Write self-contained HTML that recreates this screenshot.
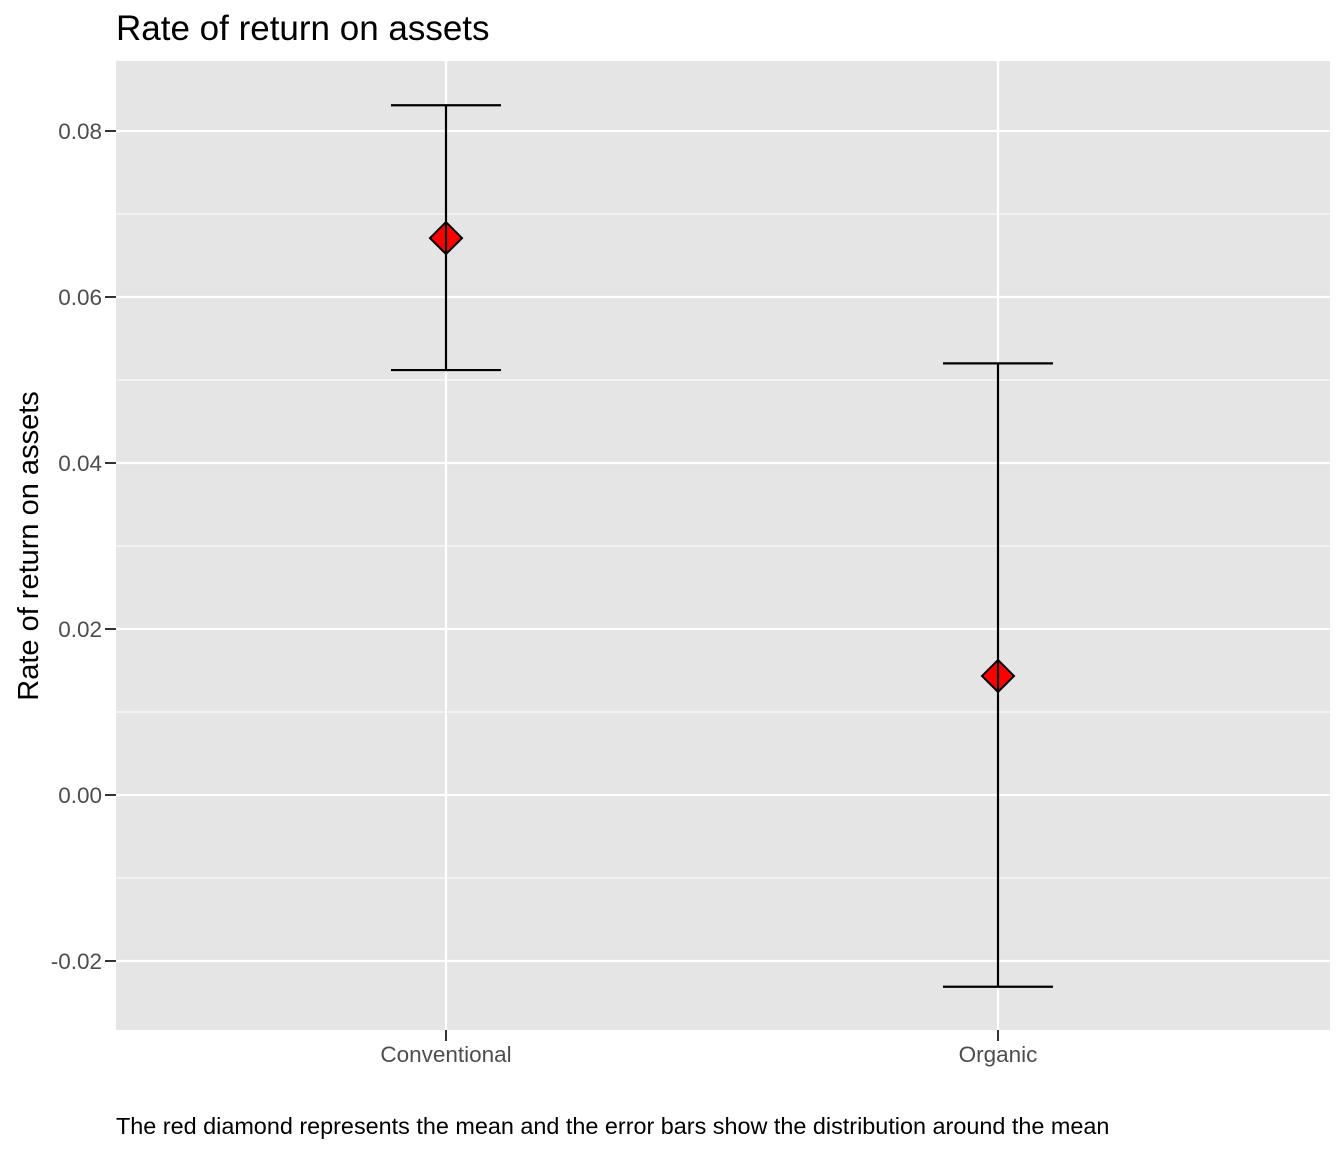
<!DOCTYPE html>
<html><head><meta charset="utf-8"><style>
body{margin:0;background:#fff;}
svg{display:block;font-family:"Liberation Sans",Arial,sans-serif;}
</style></head><body>
<svg id="chart" width="1344" height="1152">
<rect x="116" y="61" width="1214" height="969" fill="#e5e5e5"/>
<g id="grid"></g>
<g id="marks"></g>
<g id="axes"></g>
<text x="116" y="40" font-size="35" fill="#000">Rate of return on assets</text>
<text transform="translate(38,546) rotate(-90)" text-anchor="middle" font-size="29" fill="#000">Rate of return on assets</text>
<text x="116" y="1134" font-size="23.4" fill="#000">The red diamond represents the mean and the error bars show the distribution around the mean</text>
</svg>
<script>
const categories = ["Conventional","Organic"];
const means = [0.0671, 0.01434];
const lows = [0.0512, -0.0231];
const highs = [0.0831, 0.0520];
const yTicks = [-0.02, 0, 0.02, 0.04, 0.06, 0.08];
const yTickLabels = ["-0.02","0.00","0.02","0.04","0.06","0.08"];

const NS="http://www.w3.org/2000/svg";
function y(v){return 795 - v*8300;}
function x(i){return 446 + i*552;}
function mk(parent,tag,attrs){const e=document.createElementNS(NS,tag);for(const k in attrs)e.setAttribute(k,attrs[k]);document.getElementById(parent).appendChild(e);return e;}

for(let i=0;i<yTicks.length-1;i++){
  const m=(yTicks[i]+yTicks[i+1])/2;
  const l=mk('grid','line',{x1:116,x2:1330,y1:y(m),y2:y(m),stroke:'#fff','stroke-width':1});
  
  
}
{const m=yTicks[yTicks.length-1]+0.01;const l=mk('grid','line',{x1:116,x2:1330,y1:y(m),y2:y(m),stroke:'#fff','stroke-width':1});

}
yTicks.forEach((t,i)=>{
  const g=mk('grid','line',{x1:116,x2:1330,y1:y(t),y2:y(t),stroke:'#fff','stroke-width':2.2});
  
  
  const tk=mk('axes','line',{x1:105,x2:116,y1:y(t),y2:y(t),stroke:'#333','stroke-width':2});
  
  
  const tx=mk('axes','text',{x:102,y:y(t)+8,'text-anchor':'end','font-size':22.5,fill:'#4d4d4d'});
  tx.textContent=yTickLabels[i];
  
  
});
categories.forEach((c,i)=>{
  const g=mk('grid','line',{x1:x(i),x2:x(i),y1:61,y2:1030,stroke:'#fff','stroke-width':2.2});
  
  
  const tk=mk('axes','line',{x1:x(i),x2:x(i),y1:1030,y2:1041,stroke:'#333','stroke-width':2});
  
  
  const tx=mk('axes','text',{x:x(i),y:1062,'text-anchor':'middle','font-size':22.5,fill:'#4d4d4d'});
  tx.textContent=c;
  
  
  const cx=x(i),cy=y(means[i]),s=16;
  const d=mk('marks','polygon',{points:`${cx},${cy-s} ${cx+s},${cy} ${cx},${cy+s} ${cx-s},${cy}`,fill:'#ff0000',stroke:'#000','stroke-width':2});
  
  
  const v=mk('marks','line',{x1:cx,x2:cx,y1:y(highs[i]),y2:y(lows[i]),stroke:'#000','stroke-width':2.2});
  
  
  [highs[i],lows[i]].forEach(val=>{
    const cap=mk('marks','line',{x1:cx-55,x2:cx+55,y1:y(val),y2:y(val),stroke:'#000','stroke-width':2.2});
    
    
  });
});
</script>
</body></html>
